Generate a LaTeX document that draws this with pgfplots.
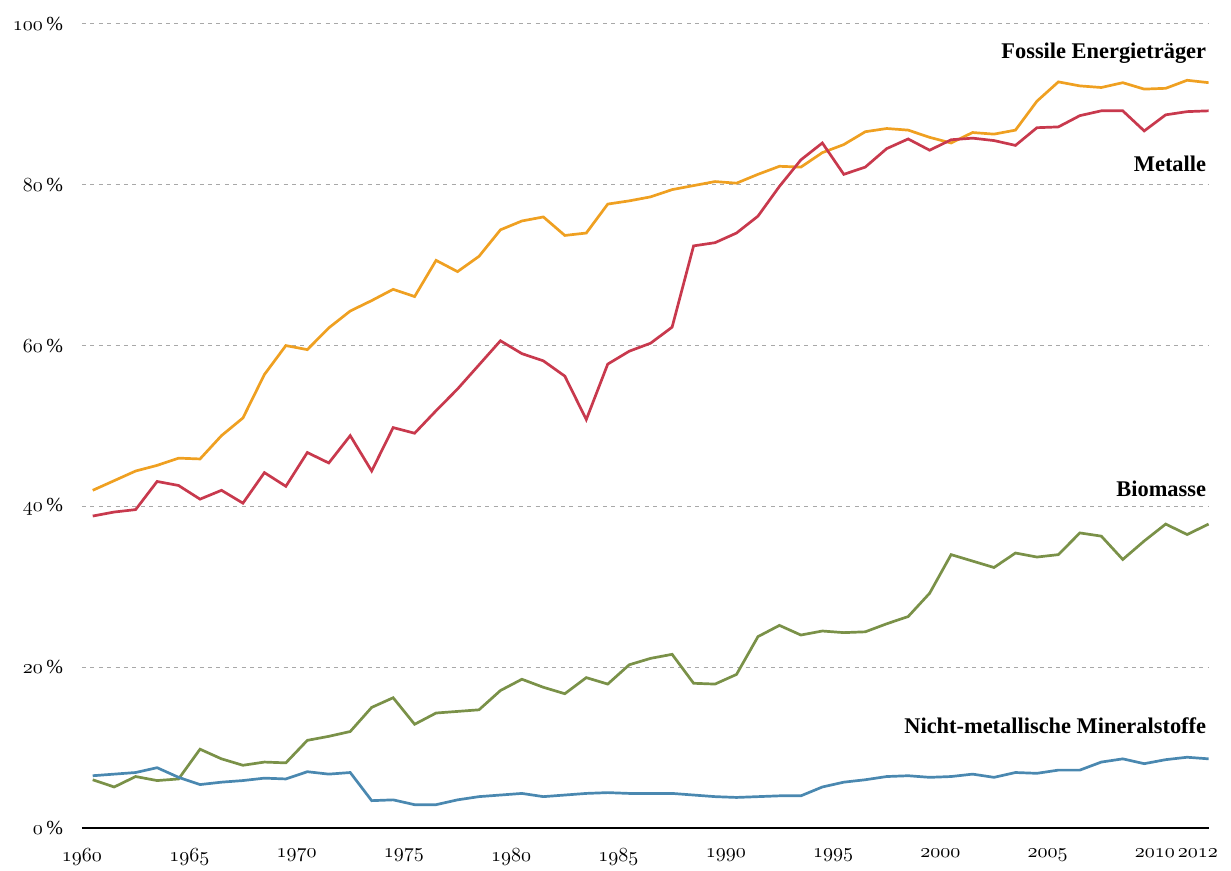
\documentclass[border=0pt]{standalone}
\usepackage{fontspec}
\setmainfont{Liberation Serif}
\usepackage{pgfplots}
\pgfplotsset{compat=1.18}
\definecolor{cOrange}{HTML}{EFA021}
\definecolor{cRed}{HTML}{C8394D}
\definecolor{cGreen}{HTML}{7A9148}
\definecolor{cBlue}{HTML}{4A88B0}
\definecolor{cGrid}{HTML}{A8A8A8}
\newcommand\osf[1]{{\usefont{OML}{cmm}{m}{it}#1}}
\begin{document}
\begin{tikzpicture}
\useasboundingbox (-41pt,-21.5pt) rectangle (574.5pt,414pt);
\begin{axis}[
  scale only axis,
  width=563.3pt, height=402pt,
  xmin=1960, xmax=2012.5,
  ymin=0, ymax=100,
  axis line style={draw=none},
  axis x line*=bottom,
  axis y line*=left,
  major tick length=0pt,
  xtick={1960,1965,1970,1975,1980,1985,1990,1995,2000,2005,2010,2012},
  xticklabels={\osf{1960},\osf{1965},\osf{1970},\osf{1975},\osf{1980},\osf{1985},\osf{1990},\osf{1995},\osf{2000},\osf{2005},\osf{2010},\osf{2012}},
  ytick={0,20,40,60,80,100},
  yticklabels={\osf{0}\,\%,\osf{20}\,\%,\osf{40}\,\%,\osf{60}\,\%,\osf{80}\,\%,\osf{100}\,\%},
  tick label style={font=\fontsize{10}{12}\selectfont, text=black},
  xticklabel style={yshift=-7pt},
  yticklabel style={xshift=-6pt},
  ymajorgrids,
  grid style={draw=cGrid, dash pattern=on 2pt off 2.2pt, line width=0.5pt},
  clip=false,
]
\draw[black, line width=0.8pt] (axis cs:1960,0) -- (axis cs:2012.5,0);
% Fossile Energietraeger
\addplot[cOrange, line width=1.35pt] coordinates {
(1960.5,42.0)(1961.5,43.2)(1962.5,44.4)(1963.5,45.1)(1964.5,46.0)(1965.5,45.9)(1966.5,48.8)(1967.5,51.0)(1968.5,56.4)(1969.5,60.0)
(1970.5,59.5)(1971.5,62.2)(1972.5,64.3)(1973.5,65.6)(1974.5,67.0)(1975.5,66.1)(1976.5,70.6)(1977.5,69.2)(1978.5,71.1)(1979.5,74.4)
(1980.5,75.5)(1981.5,76.0)(1982.5,73.7)(1983.5,74.0)(1984.5,77.6)(1985.5,78.0)(1986.5,78.5)(1987.5,79.4)(1988.5,79.9)(1989.5,80.4)
(1990.5,80.2)(1991.5,81.3)(1992.5,82.3)(1993.5,82.2)(1994.5,84.0)(1995.5,85.0)(1996.5,86.6)(1997.5,87.0)(1998.5,86.8)(1999.5,85.9)
(2000.5,85.2)(2001.5,86.5)(2002.5,86.3)(2003.5,86.8)(2004.5,90.4)(2005.5,92.8)(2006.5,92.3)(2007.5,92.1)(2008.5,92.7)(2009.5,91.9)
(2010.5,92.0)(2011.5,93.0)(2012.5,92.7)};
% Metalle
\addplot[cRed, line width=1.35pt] coordinates {
(1960.5,38.8)(1961.5,39.3)(1962.5,39.6)(1963.5,43.1)(1964.5,42.6)(1965.5,40.9)(1966.5,42.0)(1967.5,40.4)(1968.5,44.2)(1969.5,42.5)
(1970.5,46.7)(1971.5,45.4)(1972.5,48.8)(1973.5,44.4)(1974.5,49.8)(1975.5,49.1)(1976.5,51.9)(1977.5,54.6)(1978.5,57.6)(1979.5,60.6)
(1980.5,59.0)(1981.5,58.1)(1982.5,56.2)(1983.5,50.8)(1984.5,57.7)(1985.5,59.3)(1986.5,60.3)(1987.5,62.3)(1988.5,72.4)(1989.5,72.8)
(1990.5,74.0)(1991.5,76.1)(1992.5,79.8)(1993.5,83.1)(1994.5,85.2)(1995.5,81.3)(1996.5,82.2)(1997.5,84.5)(1998.5,85.7)(1999.5,84.3)
(2000.5,85.6)(2001.5,85.8)(2002.5,85.5)(2003.5,84.9)(2004.5,87.1)(2005.5,87.2)(2006.5,88.6)(2007.5,89.2)(2008.5,89.2)(2009.5,86.7)
(2010.5,88.7)(2011.5,89.1)(2012.5,89.2)};
% Biomasse
\addplot[cGreen, line width=1.35pt] coordinates {
(1960.5,6.0)(1961.5,5.1)(1962.5,6.4)(1963.5,5.9)(1964.5,6.1)(1965.5,9.8)(1966.5,8.6)(1967.5,7.8)(1968.5,8.2)(1969.5,8.1)
(1970.5,10.9)(1971.5,11.4)(1972.5,12.0)(1973.5,15.0)(1974.5,16.2)(1975.5,12.9)(1976.5,14.3)(1977.5,14.5)(1978.5,14.7)(1979.5,17.1)
(1980.5,18.5)(1981.5,17.5)(1982.5,16.7)(1983.5,18.7)(1984.5,17.9)(1985.5,20.3)(1986.5,21.1)(1987.5,21.6)(1988.5,18.0)(1989.5,17.9)
(1990.5,19.1)(1991.5,23.8)(1992.5,25.2)(1993.5,24.0)(1994.5,24.5)(1995.5,24.3)(1996.5,24.4)(1997.5,25.4)(1998.5,26.3)(1999.5,29.2)
(2000.5,34.0)(2001.5,33.2)(2002.5,32.4)(2003.5,34.2)(2004.5,33.7)(2005.5,34.0)(2006.5,36.7)(2007.5,36.3)(2008.5,33.4)(2009.5,35.7)
(2010.5,37.8)(2011.5,36.5)(2012.5,37.8)};
% Nicht-metallische Mineralstoffe
\addplot[cBlue, line width=1.35pt] coordinates {
(1960.5,6.5)(1961.5,6.7)(1962.5,6.9)(1963.5,7.5)(1964.5,6.3)(1965.5,5.4)(1966.5,5.7)(1967.5,5.9)(1968.5,6.2)(1969.5,6.1)
(1970.5,7.0)(1971.5,6.7)(1972.5,6.9)(1973.5,3.4)(1974.5,3.5)(1975.5,2.9)(1976.5,2.9)(1977.5,3.5)(1978.5,3.9)(1979.5,4.1)
(1980.5,4.3)(1981.5,3.9)(1982.5,4.1)(1983.5,4.3)(1984.5,4.4)(1985.5,4.3)(1986.5,4.3)(1987.5,4.3)(1988.5,4.1)(1989.5,3.9)
(1990.5,3.8)(1991.5,3.9)(1992.5,4.0)(1993.5,4.0)(1994.5,5.1)(1995.5,5.7)(1996.5,6.0)(1997.5,6.4)(1998.5,6.5)(1999.5,6.3)
(2000.5,6.4)(2001.5,6.7)(2002.5,6.3)(2003.5,6.9)(2004.5,6.8)(2005.5,7.2)(2006.5,7.2)(2007.5,8.2)(2008.5,8.6)(2009.5,8.0)
(2010.5,8.5)(2011.5,8.8)(2012.5,8.6)};
\node[anchor=base east, font=\bfseries\fontsize{11.2}{13}\selectfont, inner sep=0pt] at (axis cs:2012.4,95.7) {Fossile Energieträger};
\node[anchor=base east, font=\bfseries\fontsize{11.2}{13}\selectfont, inner sep=0pt] at (axis cs:2012.4,81.7) {Metalle};
\node[anchor=base east, font=\bfseries\fontsize{11.2}{13}\selectfont, inner sep=0pt] at (axis cs:2012.4,41.2) {Biomasse};
\node[anchor=base east, font=\bfseries\fontsize{11.2}{13}\selectfont, inner sep=0pt] at (axis cs:2012.4,11.7) {Nicht-metallische Mineralstoffe};
\end{axis}
\end{tikzpicture}
\end{document}
